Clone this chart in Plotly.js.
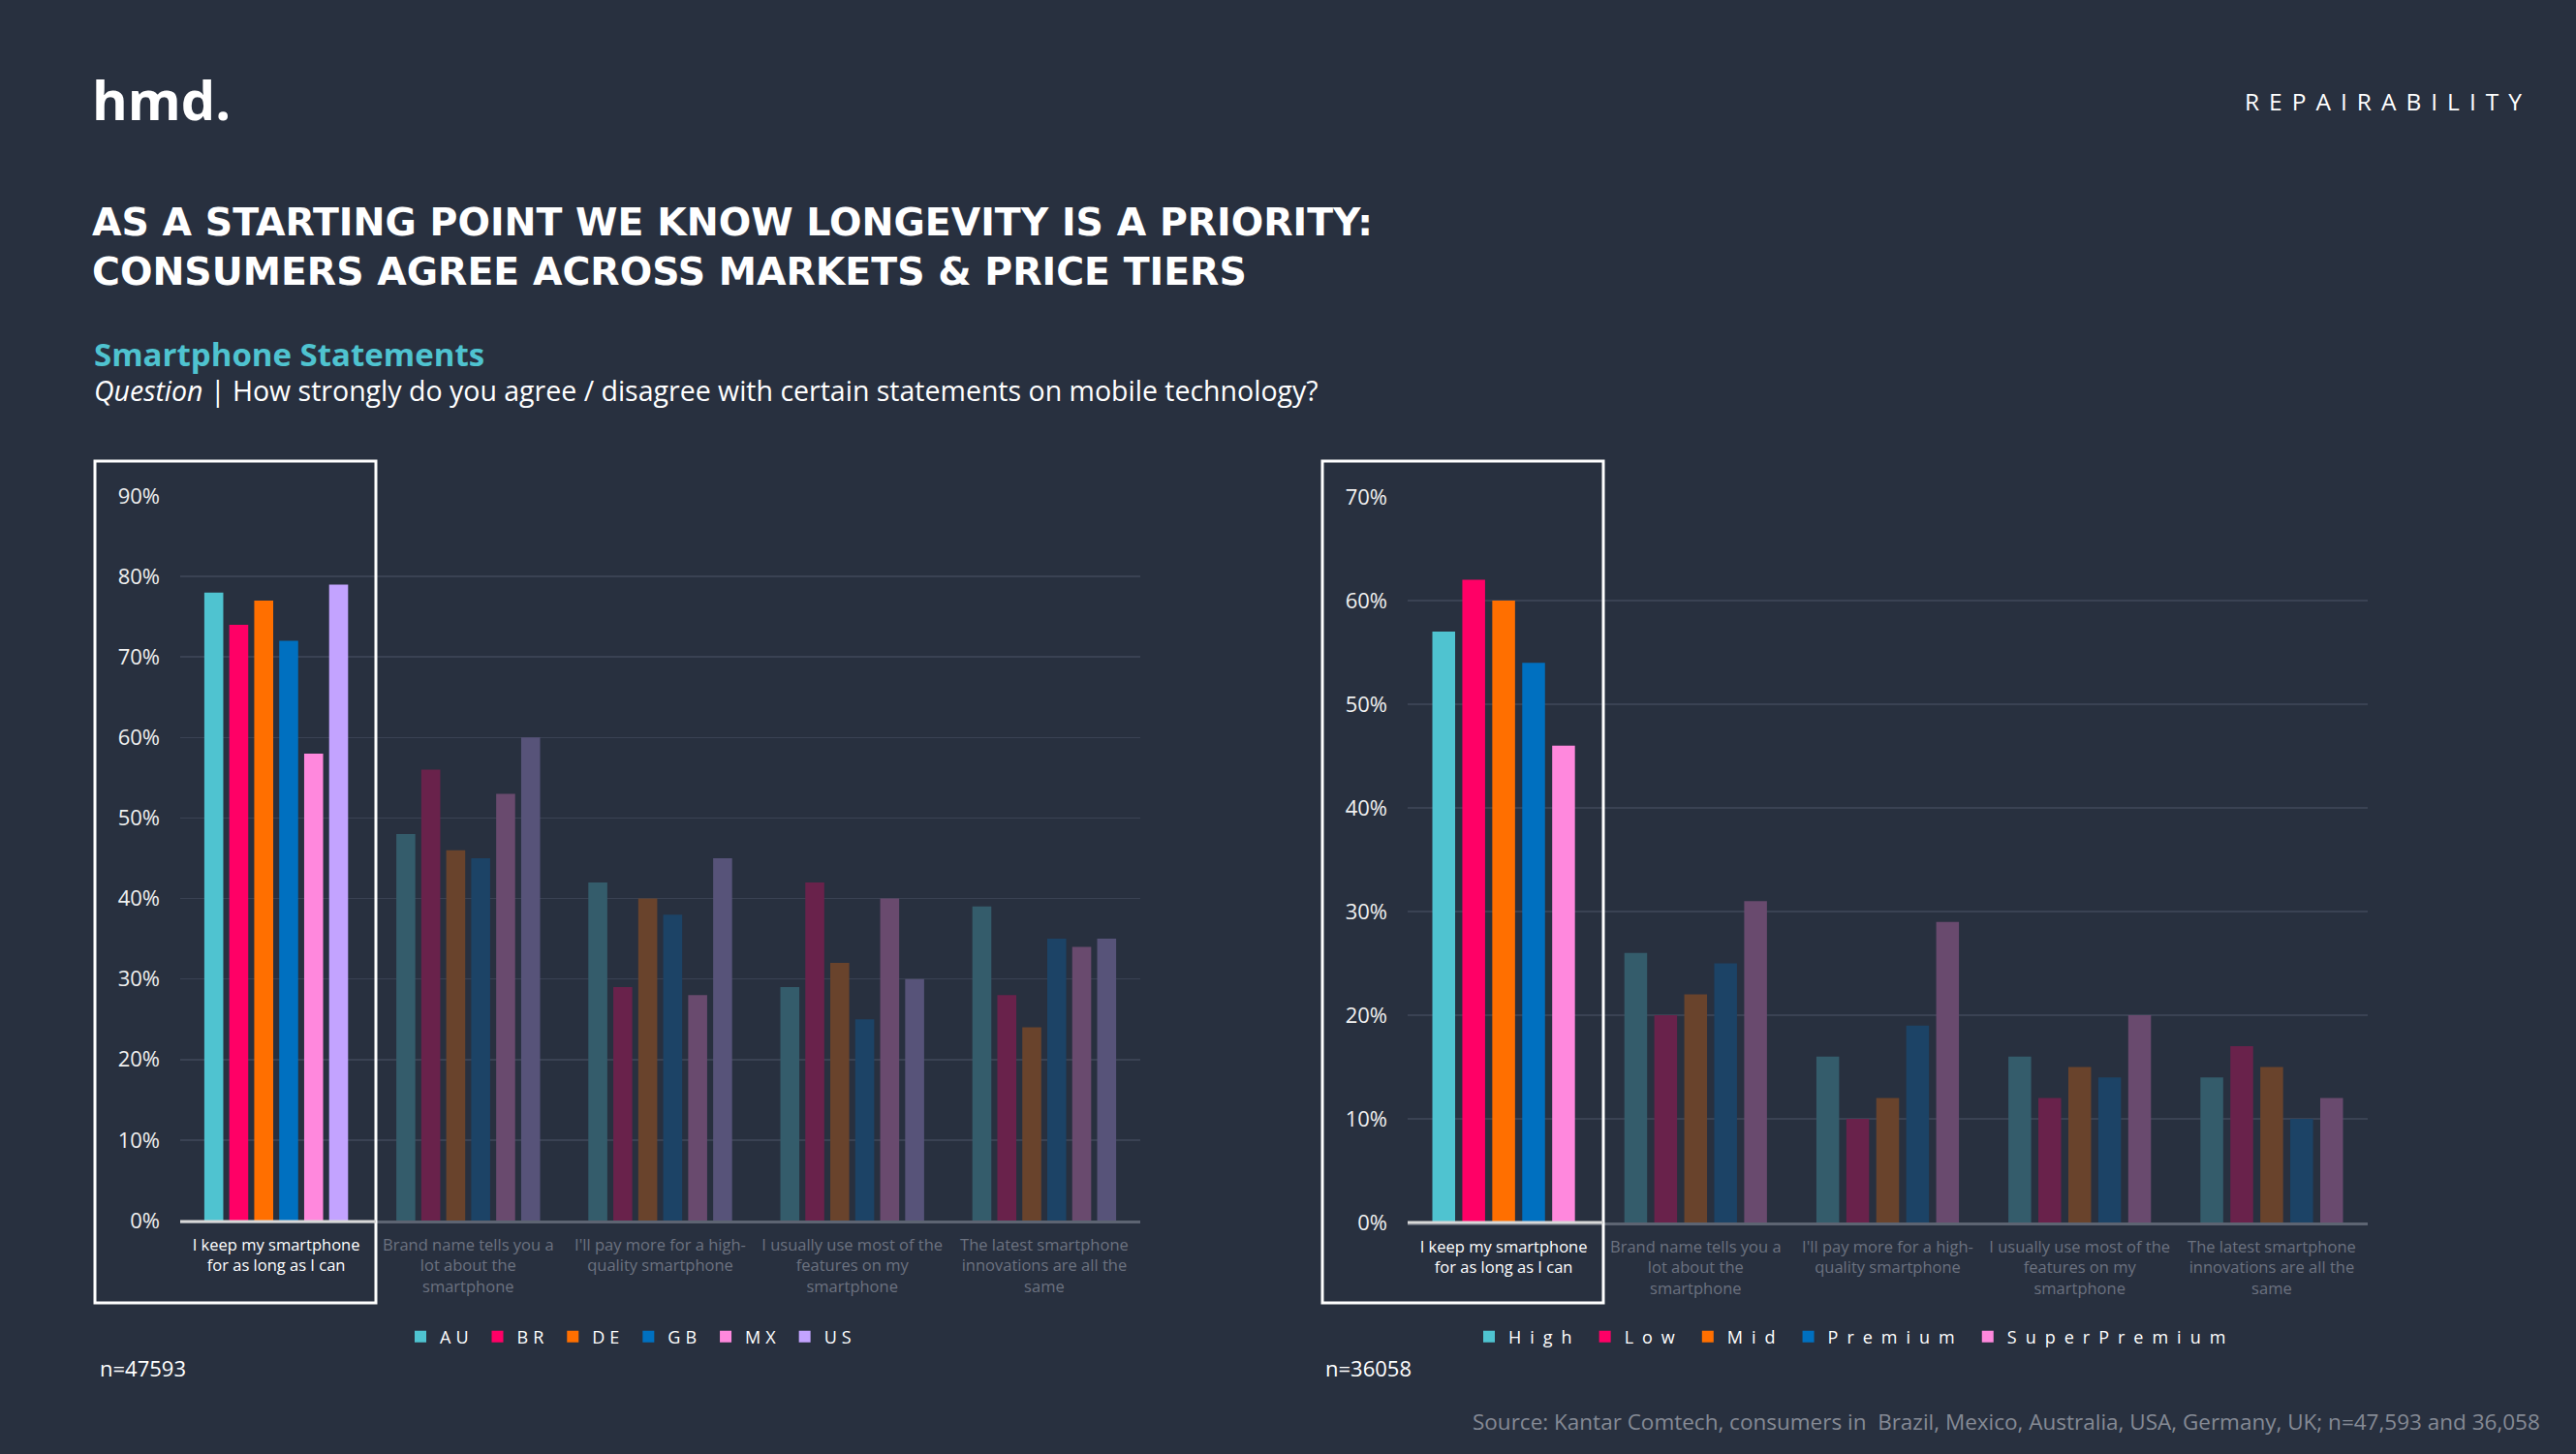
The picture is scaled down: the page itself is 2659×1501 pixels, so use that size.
<!DOCTYPE html>
<html>
<head>
<meta charset="utf-8">
<script src="https://cdn.plot.ly/plotly-3.0.1.min.js"></script>
<style>
  html, body { margin: 0; padding: 0; background: #28303f; }
  #chart { width: 2659px; height: 1501px; }
  .legendtext { letter-spacing: 5px; }
  .legend2text { letter-spacing: 9px; }
  text[data-unformatted="REPAIRABILITY"] { letter-spacing: 10px; }
</style>
</head>
<body>
<div id="chart"></div>
<script>
// ---------- DATA ----------
const categories = [
  "I keep my smartphone for as long as I can",
  "Brand name tells you a lot about the smartphone",
  "I'll pay more for a high-quality smartphone",
  "I usually use most of the features on my smartphone",
  "The latest smartphone innovations are all the same"
];
const categoryLabels = [
  ["I keep my smartphone", "for as long as I can"],
  ["Brand name tells you a", "lot about the", "smartphone"],
  ["I'll pay more for a high-", "quality smartphone"],
  ["I usually use most of the", "features on my", "smartphone"],
  ["The latest smartphone", "innovations are all the", "same"]
];

// Markets chart (n=47593)
const markets = ["AU", "BR", "DE", "GB", "MX", "US"];
const AU = [78, 48, 42, 29, 39];
const BR = [74, 56, 29, 42, 28];
const DE = [77, 46, 40, 32, 24];
const GB = [72, 45, 38, 25, 35];
const MX = [58, 53, 28, 40, 34];
const US = [79, 60, 45, 30, 35];
const marketValues = [AU, BR, DE, GB, MX, US];

// Price tier chart (n=36058)
const tiers = ["High", "Low", "Mid", "Premium", "SuperPremium"];
const High = [57, 26, 16, 16, 14];
const Low = [62, 20, 10, 12, 17];
const Mid = [60, 22, 12, 15, 15];
const Premium = [54, 25, 19, 14, 10];
const SuperPremium = [46, 31, 29, 20, 12];
const tierValues = [High, Low, Mid, Premium, SuperPremium];

const yTicks1 = [0, 10, 20, 30, 40, 50, 60, 70, 80, 90];
const yTicks2 = [0, 10, 20, 30, 40, 50, 60, 70];

// ---------- STYLE ----------
const BG = "#28303f";
const marketColors = ["#4fc3d0", "#ff0066", "#ff6f00", "#0070c0", "#ff88dd", "#c3a3ff"];
const tierColors = ["#4fc3d0", "#ff0066", "#ff6f00", "#0070c0", "#ff88dd"];
const W = 2659, H = 1501;
const fx = p => p / W;
const fy = p => 1 - p / H;

function hexToRgb(h) {
  const n = parseInt(h.slice(1), 16);
  return [(n >> 16) & 255, (n >> 8) & 255, n & 255];
}
function mute(hex, a) {
  const c = hexToRgb(hex), b = hexToRgb(BG);
  const m = c.map((v, i) => Math.round(v * a + b[i] * (1 - a)));
  return "rgb(" + m.join(",") + ")";
}
function barColors(hex) {
  return categories.map((_, i) => i === 0 ? hex : mute(hex, 0.3));
}
const tickText = categoryLabels.map((lines, i) =>
  lines.map(l => '<span style="color:' + (i === 0 ? '#ffffff' : '#6c7280') + '">' + l + '</span>').join('<br>')
);

const traces = [];
markets.forEach((m, k) => {
  traces.push({
    type: "bar", name: m, x: categories, y: marketValues[k],
    xaxis: "x", yaxis: "y", legend: "legend",
    marker: { color: barColors(marketColors[k]), line: { width: 0 } }
  });
});
tiers.forEach((t, k) => {
  traces.push({
    type: "bar", name: t, x: categories, y: tierValues[k],
    xaxis: "x2", yaxis: "y2", legend: "legend2",
    marker: { color: barColors(tierColors[k]), line: { width: 0 } }
  });
});

const FONT = "'Open Sans', 'Liberation Sans', sans-serif";
const TITLE_FONT = "'DejaVu Sans', 'Open Sans', sans-serif";
const gridColor = "#3a4253";

function xAxis(domain, anchor) {
  return {
    domain: domain, anchor: anchor, type: "category",
    tickvals: categories, ticktext: tickText,
    tickfont: { family: FONT, size: 16.5, color: "#6c7280" },
    ticks: "", ticklabelstandoff: 8,
    showline: true, linecolor: "#5d6472", linewidth: 3,
    showgrid: false, zeroline: false, automargin: false, fixedrange: true
  };
}
function yAxis(domain, anchor, maxV, ticks) {
  return {
    domain: domain, anchor: anchor, range: [0, maxV],
    tickvals: ticks, ticktext: ticks.map(v => v + "%"),
    tickfont: { family: FONT, size: 22, color: "#f0f0f0" },
    ticks: "", ticklabelstandoff: 20,
    showgrid: true, gridcolor: gridColor, gridwidth: 1.5,
    showline: false, zeroline: false, automargin: false, fixedrange: true
  };
}

const white = "#ffffff";
const annotations = [
  { text: "<b>hmd.</b>", x: fx(93), y: fy(102), xanchor: "left", yanchor: "middle",
    font: { family: FONT, size: 56, color: white } },
  { text: "REPAIRABILITY", x: fx(2315), y: fy(104), xanchor: "left", yanchor: "middle",
    font: { family: FONT, size: 24.5, color: white } },
  { text: "<b>AS A STARTING POINT WE KNOW LONGEVITY IS A PRIORITY:<br>CONSUMERS AGREE ACROSS MARKETS & PRICE TIERS</b>", x: fx(93), y: fy(254), xanchor: "left", yanchor: "middle",
    font: { family: TITLE_FONT, size: 39.4, color: white } },
  { text: "<b>Smartphone Statements</b>", x: fx(95), y: fy(365), xanchor: "left", yanchor: "middle",
    font: { family: FONT, size: 33, color: "#4fc3d0" } },
  { text: "<i>Question</i> | How strongly do you agree / disagree with certain statements on mobile technology?", x: fx(95), y: fy(403), xanchor: "left", yanchor: "middle",
    font: { family: FONT, size: 28.5, color: white } },
  { text: "n=47593", x: fx(101), y: fy(1412), xanchor: "left", yanchor: "middle",
    font: { family: FONT, size: 22, color: white } },
  { text: "n=36058", x: fx(1366), y: fy(1412), xanchor: "left", yanchor: "middle",
    font: { family: FONT, size: 22, color: white } },
  { text: "Source: Kantar Comtech, consumers in  Brazil, Mexico, Australia, USA, Germany, UK; n=47,593 and 36,058", x: fx(2624), y: fy(1467), xanchor: "right", yanchor: "middle",
    font: { family: FONT, size: 22.5, color: "#858a95" } }
].map(a => Object.assign({ xref: "paper", yref: "paper", showarrow: false, align: "left" }, a));

const shapes = [
  { type: "rect", xref: "paper", yref: "paper", x0: fx(98), x1: fx(388), y0: fy(476), y1: fy(1345),
    line: { color: white, width: 3 }, fillcolor: "rgba(0,0,0,0)" },
  { type: "rect", xref: "paper", yref: "paper", x0: fx(1365), x1: fx(1655), y0: fy(476), y1: fy(1345),
    line: { color: white, width: 3 }, fillcolor: "rgba(0,0,0,0)" },
  { type: "line", xref: "paper", yref: "paper", x0: fx(186), x1: fx(388), y0: fy(1261), y1: fy(1261),
    line: { color: "#d8d8d8", width: 3 } },
  { type: "line", xref: "paper", yref: "paper", x0: fx(1453), x1: fx(1655), y0: fy(1262), y1: fy(1262),
    line: { color: "#d8d8d8", width: 3 } }
];

const legendBase = {
  orientation: "h", bgcolor: "rgba(0,0,0,0)", borderwidth: 0,
  font: { family: FONT, size: 18, color: white },
  yanchor: "middle", xanchor: "left", itemclick: false, itemdoubleclick: false
};

const layout = {
  width: W, height: H,
  paper_bgcolor: BG, plot_bgcolor: BG,
  margin: { l: 0, r: 0, t: 0, b: 0 },
  barmode: "group", bargap: 0.22, bargroupgap: 0.24,
  showlegend: true,
  legend: Object.assign({}, legendBase, { x: fx(414), y: fy(1380) }),
  legend2: Object.assign({}, legendBase, { x: fx(1517), y: fy(1380) }),
  xaxis: xAxis([fx(186), fx(1177)], "y"),
  yaxis: yAxis([fy(1260), fy(512)], "x", 90, yTicks1),
  xaxis2: xAxis([fx(1453), fx(2444)], "y2"),
  yaxis2: yAxis([fy(1262), fy(513)], "x2", 70, yTicks2),
  annotations: annotations,
  shapes: shapes,
  hovermode: false
};

Plotly.newPlot("chart", traces, layout, { displayModeBar: false, staticPlot: true });
</script>
</body>
</html>
